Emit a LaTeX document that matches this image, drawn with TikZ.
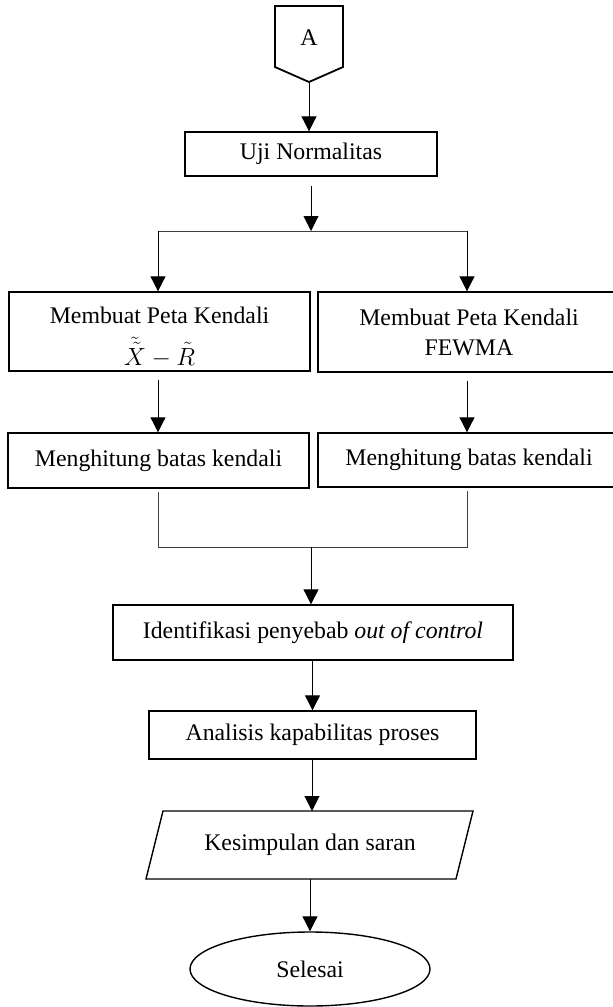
\documentclass[tikz,border=0pt]{standalone}
\usepackage{fontspec}
\setmainfont{Liberation Serif}
\usetikzlibrary{arrows.meta,shapes.geometric}
\begin{document}
\begin{tikzpicture}[x=1pt,y=-1pt,
  every node/.style={font=\fontsize{23.8}{30}\selectfont, align=center, inner sep=0pt},
  box/.style={draw, line width=1.4pt, rectangle},
  conn/.style={line width=1pt, -{Triangle[width=15pt,length=15pt]}},
  joinline/.style={line width=0.9pt, draw=black!75}]
\path[use as bounding box] (0,0) rectangle (613,1007);
\clip (0,0) rectangle (613,1007);
% off-page connector A
\draw[line width=1.8pt, line join=miter] (275,6) -- (343,6) -- (343,67) -- (309,82) -- (275,67) -- cycle;
\node (A) at (309,38) {A};
\coordinate (Ap) at (309,82);
% Uji Normalitas
\node[box, minimum width=252pt, minimum height=44pt] (uji) at (311,154) {Uji Normalitas};
\coordinate (j1) at (311,231);
\coordinate (jl) at (158,231);
\coordinate (jr) at (467,231);
% first row
\node[box, minimum width=301pt, minimum height=79pt] (m1) at (159.5,331.5) {};
\node (m1a) at (159.5,315) {Membuat Peta Kendali};
\node (m1b) at (159.5,352) {$\tilde{\tilde{X}} - \tilde{R}$};
\node[box, minimum width=302pt, minimum height=80pt] (m2) at (469,332) {Membuat Peta Kendali\\ FEWMA};
% second row
\node[box, minimum width=301pt, minimum height=55pt] (h1) at (158.5,460.5) {Menghitung batas kendali};
\node[box, minimum width=302pt, minimum height=54pt] (h2) at (469,460) {Menghitung batas kendali};
\coordinate (bl) at (158,547);
\coordinate (br) at (467,547);
\coordinate (j2) at (311,547);
% identifikasi
\node[box, minimum width=400pt, minimum height=55pt] (id) at (313,632.5) {Identifikasi penyebab \textit{out of control}};
% analisis
\node[box, minimum width=327pt, minimum height=48pt] (an) at (312.5,735) {Analisis kapabilitas proses};
% kesimpulan (parallelogram)
\draw[line width=1.4pt] (163,811) -- (473,811) -- (456,879) -- (146,879) -- cycle;
\node (ks) at (310,845) {Kesimpulan dan saran};
\coordinate (kst) at (312,811);
\coordinate (ksb) at (310,879);
% selesai
\node[draw, ellipse, line width=1.4pt, minimum width=240pt, minimum height=74pt] (end) at (310,969) {Selesai};
% connectors
\draw[conn] (Ap) -- (Ap |- uji.north);
\draw[conn] ([yshift=-9pt]uji.south) -- (j1);
\draw[joinline] (jl) -- (jr);
\draw[conn] (jl) -- (jl |- m1.north);
\draw[conn] (jr) -- (jr |- m2.north);
\draw[conn] ([yshift=-8pt]m1.south -| jl) -- (jl |- h1.north);
\draw[conn] ([yshift=-8pt]m2.south -| jr) -- (jr |- h2.north);
\draw[joinline] ([yshift=-3pt]h1.south -| bl) -- (bl) -- (br) -- ([yshift=-3pt]h2.south -| br);
\draw[conn] (j2) -- (j2 |- id.north);
\draw[conn] (id.south -| an.north) -- (an.north);
\draw[conn] (an.south -| kst) -- (kst);
\draw[conn] (ksb) -- (end.north);
\end{tikzpicture}
\end{document}
